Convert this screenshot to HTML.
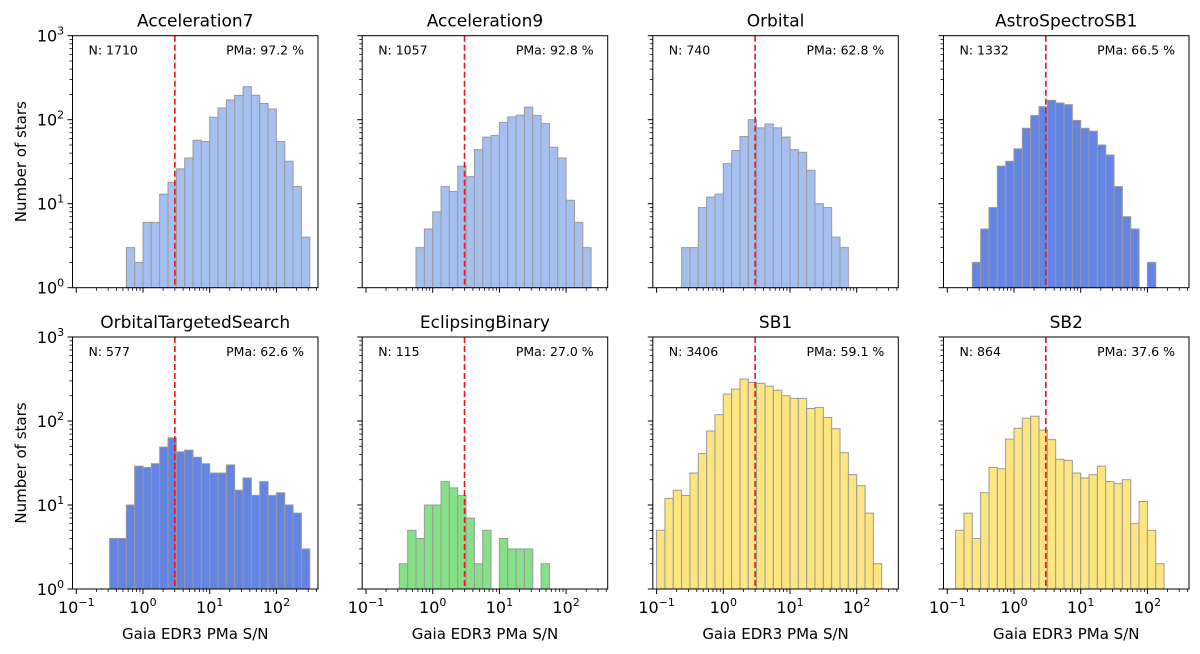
<!DOCTYPE html>
<html><head><meta charset="utf-8"><style>
html,body{margin:0;padding:0;background:#fff;}
svg{display:block;font-family:"DejaVu Sans","Liberation Sans",sans-serif;}
</style></head><body>
<svg id="fig" width="1200" height="654" viewBox="0 0 1200 654" xmlns="http://www.w3.org/2000/svg"></svg>
<script>
const titles = ["Acceleration7","Acceleration9","Orbital","AstroSpectroSB1","OrbitalTargetedSearch","EclipsingBinary","SB1","SB2"];
const nLabels = ["N: 1710","N: 1057","N: 740","N: 1332","N: 577","N: 115","N: 3406","N: 864"];
const pmaLabels = ["PMa: 97.2 %","PMa: 92.8 %","PMa: 62.8 %","PMa: 66.5 %","PMa: 62.6 %","PMa: 27.0 %","PMa: 59.1 %","PMa: 37.6 %"];
const colors = ["#a4bff0","#a4bff0","#a4bff0","#6384e3","#6384e3","#86e088","#fde680","#fde680"];
// bin edges: log10 from -1 to 2.5 in 28 bins
const binLogMin = -1, binLogWidth = 0.125;
const counts0 = [0,0,0,0,0,0,3,2,6,6,13,18,26,35,57,55,107,138,172,195,247,195,156,134,55,32,16,4];
const counts1 = [0,0,0,0,0,0,3,5,8,16,14,28,21,44,62,65,93,108,113,141,112,90,47,35,11,6,3,0];
const counts2 = [0,0,0,3,3,9,12,13,30,43,63,100,80,89,80,62,44,41,25,10,9,4,3,0,0,0,0,0];
const counts3 = [0,0,0,2,5,9,28,32,45,79,112,143,170,158,151,98,79,73,50,38,16,7,5,0,2,0,0,0];
const counts4 = [0,0,0,0,4,4,10,29,28,31,49,63,43,45,37,31,24,24,30,15,21,13,19,13,14,10,8,3];
const counts5 = [0,0,0,0,2,5,4,10,10,19,16,13,7,2,5,0,4,3,3,3,0,2,0,0,0,0,0,0];
const counts6 = [5,12,15,13,24,41,76,119,209,240,316,288,281,260,232,200,186,186,141,145,110,81,42,23,17,8,2,0];
const counts7 = [0,5,8,4,14,28,27,61,82,108,114,78,60,35,34,24,21,23,29,19,18,20,6,11,5,2,0,0];
const allCounts = [counts0,counts1,counts2,counts3,counts4,counts5,counts6,counts7];
const thresholds = [3,3,3,3,3,3,3,3];
const yTickLabels = ["0","1","2","3"];
const xTickLabels = ["\u22121","0","1","2"];

const NS = "http://www.w3.org/2000/svg";
const svg = document.getElementById("fig");
function mk(tag, attrs, parent){
  const e = document.createElementNS(NS, tag);
  for (const k in attrs) e.setAttribute(k, attrs[k]);
  (parent||svg).appendChild(e);
  return e;
}
const panelLefts = [72.5, 362.2, 652.8, 943.5];
const panelTops = [35.7, 337];
const W = 245.5, H = 252;
const xLogMin = -1.057, decPx = 66.7;
const yDec = 84;

for (let p = 0; p < 8; p++) {
  const row = Math.floor(p/4), col = p%4;
  const L = panelLefts[col], T = panelTops[row], B = T + H;
  const xs = v => L + (v - xLogMin) * decPx;
  const ys = c => B - Math.log10(c) * yDec;
  const g = mk("g", {});
  
  

  const counts = allCounts[p];
  for (let k = 0; k < counts.length; k++) {
    const c = counts[k];
    if (c <= 0) continue;
    const x0 = xs(binLogMin + k*binLogWidth), x1 = xs(binLogMin + (k+1)*binLogWidth);
    const r = mk("rect", {x:x0, y:ys(c), width:x1-x0, height:B-ys(c), fill:colors[p], stroke:"#9a9a9a", "stroke-width":1}, g);
    
    
  }
  const tx = xs(Math.log10(thresholds[p]));
  const tl = mk("line", {x1:tx, x2:tx, y1:T, y2:B, stroke:"#e8141c", "stroke-width":1.6, "stroke-dasharray":"6,3"}, g);
  
  

  const fr = mk("rect", {x:L, y:T, width:W, height:H, fill:"none", stroke:"#000", "stroke-width":1}, g);
  
  

  for (let d = -1; d <= 2; d++) {
    const x = xs(d);
    mk("line", {x1:x, x2:x, y1:B, y2:B+5, stroke:"#000", "stroke-width":1}, g);
    for (let m = 2; m <= 9; m++) {
      const xm = xs(d + Math.log10(m));
      if (xm > L + W) break;
      mk("line", {x1:xm, x2:xm, y1:B, y2:B+3, stroke:"#000", "stroke-width":0.8}, g);
    }
    if (row === 1) {
      const t = mk("text", {x:x, y:B+24, "font-size":16, "text-anchor":"middle", fill:"#000"}, g);
      
      
      t.textContent = "10";
      const s = mk("tspan", {dy:-7, "font-size":11}, t);
      s.textContent = xTickLabels[d+1];
    }
  }
  for (let d = 0; d <= 3; d++) {
    const y = B - d*yDec;
    mk("line", {x1:L-5, x2:L, y1:y, y2:y, stroke:"#000", "stroke-width":1}, g);
    if (d < 3) for (let m = 2; m <= 9; m++) {
      const ym = y - Math.log10(m)*yDec;
      mk("line", {x1:L-3, x2:L, y1:ym, y2:ym, stroke:"#000", "stroke-width":0.8}, g);
    }
    if (col === 0) {
      const t = mk("text", {x:L-22, y:y+6, "font-size":16, "text-anchor":"middle", fill:"#000"}, g);
      
      
      t.textContent = "10";
      const s = mk("tspan", {dy:-7, "font-size":11}, t);
      s.textContent = yTickLabels[d];
    }
  }
  const tt = mk("text", {x:L+W/2, y:T-9, "font-size":17, "text-anchor":"middle", fill:"#000"}, g);
  
  
  tt.textContent = titles[p];
  const nt = mk("text", {x:L+16, y:T+19, "font-size":12.5, fill:"#000"}, g);
  
  
  nt.textContent = nLabels[p];
  const pt = mk("text", {x:L+W-14, y:T+19, "font-size":12.5, "text-anchor":"end", fill:"#000"}, g);
  
  
  pt.textContent = pmaLabels[p];
  if (row === 1) {
    const xl = mk("text", {x:L+W/2, y:B+50, "font-size":15, "text-anchor":"middle", fill:"#000"}, g);
    
    
    xl.textContent = "Gaia EDR3 PMa S/N";
  }
  if (col === 0) {
    const cy = T + H/2;
    const yl = mk("text", {x:26, y:cy, "font-size":15, "text-anchor":"middle", fill:"#000", transform:"rotate(-90 26 "+cy+")"}, g);
    
    
    yl.textContent = "Number of stars";
  }
}
</script>
</body></html>
